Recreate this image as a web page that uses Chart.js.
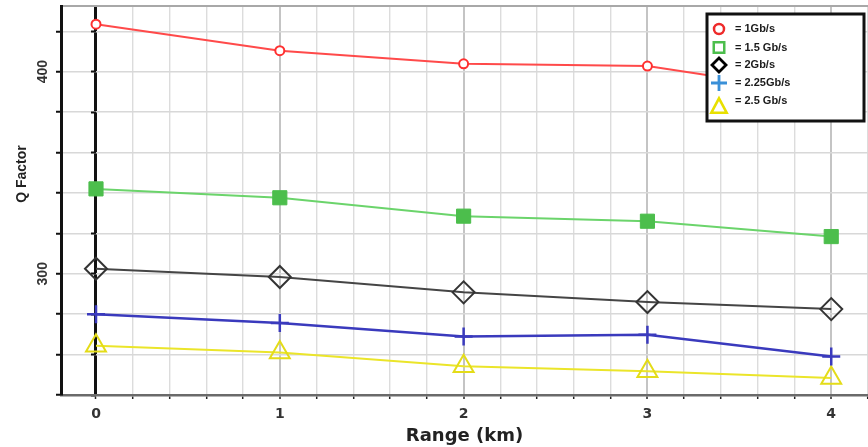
<!DOCTYPE html>
<html>
<head>
<meta charset="utf-8">
<script src="https://cdn.jsdelivr.net/npm/chart.js@4.4.1/dist/chart.umd.min.js"></script>
<style>
  html, body { margin: 0; padding: 0; background: #fff; }
  #wrap { position: relative; width: 868px; height: 447px; }
</style>
</head>
<body>
<div id="wrap"><canvas id="c" width="868" height="447"></canvas></div>
<script>
// Range in km and Q factor for each bit rate
const ranges    = [0, 1, 2, 3, 4];
const q1Gbps    = [423.5, 410.4, 403.9, 402.8, 389];
const q1_5Gbps  = [342, 337.6, 328.5, 326, 318.4];
const q2Gbps    = [302.5, 298.4, 290.8, 286, 282.5];
const q2_25Gbps = [280, 275.6, 269, 269.8, 259.1];
const q2_5Gbps  = [264.4, 261, 254.2, 251.7, 248.4];
const seriesLabels = ['1Gb/s', '1.5 Gb/s', '2Gb/s', '2.25Gb/s', '2.5 Gb/s'];
const yLabelValues = [300, 400];
const xLabelValues = [0, 1, 2, 3, 4];

const X_MIN = -0.1904, X_MAX = 4.2;
const Y_MIN = 240, Y_MAX = 432.5;

const toPoints = arr => ranges.map((r, i) => ({ x: r, y: arr[i] }));
const near = (v, step) => Math.abs(v / step - Math.round(v / step)) < 1e-6;

// Line and marker styles per series, plus the symbol drawn in the legend box
const styles = [
  { line: '#ff4a4a', mark: '#ff3030', fill: '#ffffff', style: 'circle',   r: 4.5, lw: 2,   bw: 2,   legend: { color: '#ee2a2a', r: 5,  lw: 2.5 } },
  { line: '#6bd46b', mark: '#4cbe4c', fill: '#4cbe4c', style: 'rect',     r: 10,  lw: 2,   bw: 1,   legend: { color: '#4cbe4c', r: 7,  lw: 2.5 } },
  { line: '#454545', mark: '#333333', fill: 'rgba(0,0,0,0)', style: 'rectRot', r: 11, lw: 2, bw: 2, legend: { color: '#000000', r: 7, lw: 2.8 } },
  { line: '#3a3abd', mark: '#3a3abd', fill: '#3a3abd', style: 'cross',    r: 9,   lw: 2.5, bw: 2.5, legend: { color: '#3a90d8', r: 8,  lw: 2.8 } },
  { line: '#ebe52a', mark: '#e4dc18', fill: 'rgba(0,0,0,0)', style: 'triangle', r: 11.5, lw: 2, bw: 2, legend: { color: '#e8e000', r: 9, lw: 2.6 } }
];
const seriesData = [q1Gbps, q1_5Gbps, q2Gbps, q2_25Gbps, q2_5Gbps];

const datasets = seriesData.map((arr, i) => ({
  label: seriesLabels[i],
  data: toPoints(arr),
  borderColor: styles[i].line,
  borderWidth: styles[i].lw,
  pointStyle: styles[i].style,
  pointRadius: styles[i].r,
  pointBorderColor: styles[i].mark,
  pointBackgroundColor: styles[i].fill,
  pointBorderWidth: styles[i].bw,
  tension: 0,
  fill: false
}));

// Rotated y-axis caption
const yCaption = {
  id: 'yCaption',
  afterDraw(chart) {
    const ctx = chart.ctx;
    ctx.save();
    ctx.translate(22, 174);
    ctx.rotate(-Math.PI / 2);
    ctx.font = 'bold 14px "Liberation Sans", Arial, sans-serif';
    ctx.fillStyle = '#222';
    ctx.textAlign = 'center';
    ctx.textBaseline = 'middle';
    ctx.fillText('Q Factor', 0, 0);
    ctx.restore();
  }
};

// Boxed legend in the upper right corner of the plot
const boxedLegend = {
  id: 'boxedLegend',
  afterDraw(chart) {
    const ctx = chart.ctx;
    const bx = 707, by = 14, bw = 157, bh = 107;
    ctx.save();
    ctx.fillStyle = '#fff';
    ctx.fillRect(bx, by, bw, bh);
    ctx.lineWidth = 3;
    ctx.strokeStyle = '#111';
    ctx.strokeRect(bx, by, bw, bh);
    const rows = [29, 47.5, 65, 83, 101];
    const symY = [29, 47.5, 65, 83, 106];
    chart.data.datasets.forEach((ds, i) => {
      const lg = styles[i].legend;
      const cx = 719, cy = symY[i];
      ctx.strokeStyle = lg.color;
      ctx.lineWidth = lg.lw;
      ctx.beginPath();
      switch (ds.pointStyle) {
        case 'circle': ctx.arc(cx, cy, lg.r, 0, Math.PI * 2); break;
        case 'rect': ctx.rect(cx - lg.r * 0.75, cy - lg.r * 0.75, lg.r * 1.5, lg.r * 1.5); break;
        case 'rectRot':
          ctx.moveTo(cx, cy - lg.r); ctx.lineTo(cx + lg.r, cy);
          ctx.lineTo(cx, cy + lg.r); ctx.lineTo(cx - lg.r, cy); ctx.closePath(); break;
        case 'cross':
          ctx.moveTo(cx - lg.r, cy); ctx.lineTo(cx + lg.r, cy);
          ctx.moveTo(cx, cy - lg.r); ctx.lineTo(cx, cy + lg.r); break;
        case 'triangle':
          ctx.moveTo(cx, cy - lg.r * 0.85);
          ctx.lineTo(cx + lg.r * 0.85, cy + lg.r * 0.75);
          ctx.lineTo(cx - lg.r * 0.85, cy + lg.r * 0.75);
          ctx.closePath(); break;
      }
      ctx.stroke();
      ctx.font = 'bold 11px "Liberation Sans", Arial, sans-serif';
      ctx.fillStyle = '#1a1a1a';
      ctx.textAlign = 'left';
      ctx.textBaseline = 'middle';
      ctx.fillText('= ' + ds.label, 735, rows[i]);
    });
    ctx.restore();
  }
};

new Chart(document.getElementById('c'), {
  type: 'line',
  data: { datasets },
  plugins: [yCaption, boxedLegend],
  options: {
    responsive: false,
    animation: false,
    devicePixelRatio: 1,
    layout: { autoPadding: false, padding: { top: 6, right: 0, left: 0, bottom: 0 } },
    plugins: { legend: { display: false }, tooltip: { enabled: false } },
    scales: {
      x: {
        type: 'linear', position: 'bottom', min: X_MIN, max: X_MAX,
        ticks: {
          stepSize: 0.2, includeBounds: false, autoSkip: false, maxRotation: 0, padding: 7, color: '#333',
          font: { family: '"DejaVu Sans", sans-serif', size: 14, weight: 'bold' },
          callback: v => (xLabelValues.some(t => Math.abs(t - v) < 1e-6) ? String(Math.round(v)) : '')
        },
        grid: {
          color: c => { const v = c.tick ? c.tick.value : NaN; if (Math.abs(v) < 1e-6) return '#111'; return near(v, 1) ? '#c4c4c4' : '#dcdcdc'; },
          lineWidth: c => { const v = c.tick ? c.tick.value : NaN; if (Math.abs(v) < 1e-6) return 3; return near(v, 1) ? 2 : 1.4; },
          tickColor: '#222', tickLength: 4, tickWidth: 1.5
        },
        border: { color: '#6a6a6a', width: 2.5 },
        title: { display: true, text: 'Range (km)', color: '#222',
          font: { family: '"DejaVu Sans", sans-serif', size: 18, weight: 'bold' }, padding: { top: 0, bottom: 0 } },
        afterFit: s => { s.height = 52; s.paddingLeft = 0; s.paddingRight = 0; }
      },
      xTop: {
        type: 'linear', position: 'top', min: X_MIN, max: X_MAX,
        ticks: { display: false },
        grid: { drawOnChartArea: false, drawTicks: false },
        border: { color: '#a8a8a8', width: 2 },
        afterFit: s => { s.height = 0; s.paddingLeft = 0; s.paddingRight = 0; }
      },
      y: {
        type: 'linear', position: 'left', min: Y_MIN, max: Y_MAX,
        ticks: {
          stepSize: 20, includeBounds: false, autoSkip: false, minRotation: 90, maxRotation: 90, crossAlign: 'center', padding: 1, color: '#333',
          font: { family: '"Liberation Sans", Arial, sans-serif', size: 14, weight: 'bold' },
          callback: v => (yLabelValues.includes(v) ? String(v) : '')
        },
        grid: {
          color: c => { const v = c.tick ? c.tick.value : NaN; return v > Y_MIN ? '#d8d8d8' : 'rgba(0,0,0,0)'; },
          lineWidth: 1.5, tickColor: '#111', tickLength: 5, tickWidth: 2
        },
        border: { color: '#111', width: 3 },
        afterFit: s => { s.width = 61; s.paddingTop = 0; s.paddingBottom = 0; }
      },
      yZero: {
        type: 'linear', axis: 'y', position: { x: 0 }, min: Y_MIN, max: Y_MAX,
        ticks: { display: false, stepSize: 20, includeBounds: false },
        grid: { drawOnChartArea: false, tickColor: '#111', tickLength: 5, tickWidth: 2 },
        border: { display: false },
        afterFit: s => { s.paddingTop = 0; s.paddingBottom = 0; s.paddingLeft = 0; s.paddingRight = 0; }
      }
    }
  }
});
</script>
</body>
</html>
